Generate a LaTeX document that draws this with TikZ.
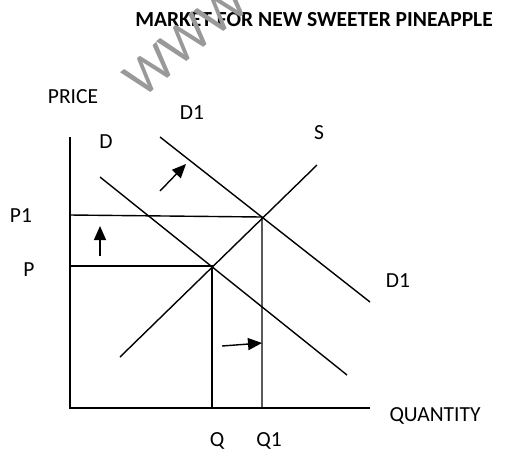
\documentclass[tikz,border=0pt]{standalone}
\usepackage{fontspec}
\setmainfont{Carlito}
\usetikzlibrary{arrows.meta}
\begin{document}
\begin{tikzpicture}[x=1pt,y=-1pt,
  curve/.style={line width=1.4pt},
  axis/.style={line width=1.5pt},
  shiftarrow/.style={line width=1.4pt,-{Triangle[length=14pt,width=12pt]}},
  lbl/.style={font=\fontsize{21.5}{24}\selectfont,inner sep=0pt,anchor=base},
  ttl/.style={font=\fontsize{21.5}{24}\selectfont\bfseries,inner sep=0pt,anchor=base},
  wmark/.style={font=\fontsize{54}{58}\selectfont,text=black!40,inner sep=0pt,anchor=base west,rotate=40}]
\useasboundingbox (0,0) rectangle (505,451);
% key points
\coordinate (O) at (70,408);
\coordinate (ytop) at (70,137);
\coordinate (xend) at (370,408);
\coordinate (E0) at (212,266);
\coordinate (E1) at (262,217);
\coordinate (P0) at (70,266);
\coordinate (P1l) at (70,215);
\coordinate (Q0) at (212,408);
\coordinate (Q1b) at (262,408);
\coordinate (Ds) at (100,177);
\coordinate (De) at (347,375);
\coordinate (D1s) at (160,137);
\coordinate (D1e) at (370,302);
\coordinate (Ss) at (120,357);
\coordinate (Se) at (317,165);
\coordinate (a1s) at (160,191);
\coordinate (a1e) at (186,164);
\coordinate (a2s) at (100,256);
\coordinate (a2e) at (100,226);
\coordinate (a3s) at (222,346);
\coordinate (a3e) at (262,343);
% axes
\draw[axis] (ytop) -- (O) -- (xend);
% curves
\draw[curve] (Ds) -- (De);
\draw[curve] (D1s) -- (D1e);
\draw[curve] (Ss) -- (Se);
% guide lines
\draw[curve] (P1l) -- (E1) -- (Q1b);
\draw[curve] (P0) -- (E0) -- (Q0);
% shift arrows
\draw[shiftarrow] (a1s) -- (a1e);
\draw[shiftarrow] (a2s) -- (a2e);
\draw[shiftarrow] (a3s) -- (a3e);
% labels
\node[ttl] (title) at (314,26) {MARKET FOR NEW SWEETER PINEAPPLE};
\node[lbl] (price) at (73,103) {PRICE};
\node[lbl] (d1top) at (192,119) {D1};
\node[lbl] (d) at (106,148) {D};
\node[lbl] (p1) at (21,222) {P1};
\node[lbl] (p) at (29,276) {P};
\node[lbl] (s) at (319,139) {S};
\node[lbl] (d1r) at (398,287) {D1};
\node[lbl] (qty) at (435,421) {QUANTITY};
\node[lbl] (q) at (217,446) {Q};
\node[lbl] (q1) at (269,446) {Q1};
% watermark
\begin{scope}
\clip (0,0) rectangle (505,451);
\node[wmark] (wm) at (142,100) {WWW};
\end{scope}
\end{tikzpicture}
\end{document}
